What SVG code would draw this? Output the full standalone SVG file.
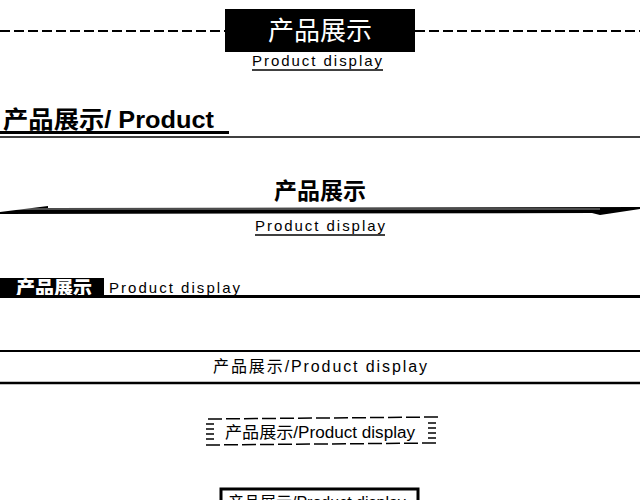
<svg xmlns="http://www.w3.org/2000/svg" width="640" height="500" viewBox="0 0 640 500">
<style>
.cjk{font-family:"Noto Sans CJK SC","Liberation Sans",sans-serif}
.sans{font-family:"Liberation Sans","Noto Sans CJK SC",sans-serif}
</style>
<rect width="640" height="500" fill="#fff"/>
<g id="title1">
<line x1="0" y1="31" x2="226" y2="31" stroke="#000" stroke-width="2" stroke-dasharray="10,4"/>
<line x1="415" y1="31" x2="640" y2="31" stroke="#000" stroke-width="2" stroke-dasharray="10,4"/>
<rect x="225" y="9" width="190" height="43" fill="#000"/>
<text x="320" y="40" class="cjk" font-size="26" fill="#fff" text-anchor="middle">产品展示</text>
<text x="252" y="66" class="sans" font-size="15" textLength="130" lengthAdjust="spacing">Product display</text>
<line x1="252" y1="70" x2="383" y2="70" stroke="#000" stroke-width="1.5"/>
</g>
<g id="title2">
<text x="3" y="128" class="sans" font-size="24" font-weight="bold" textLength="211" lengthAdjust="spacingAndGlyphs">产品展示/ Product</text>
<rect x="0" y="131" width="229" height="3" fill="#000"/>
<line x1="0" y1="137" x2="640" y2="137" stroke="#000" stroke-width="1.5"/>
</g>
<g id="title3">
<text x="320" y="199" class="cjk" font-size="23" font-weight="bold" text-anchor="middle">产品展示</text>
<polygon points="0,212 48,206 48,208 640,207 640,209 600,215 592,213 0,214" fill="#000"/>
<line x1="10" y1="209" x2="600" y2="209" stroke="#fff" stroke-width="0.6"/>
<text x="255" y="231" class="sans" font-size="15" textLength="130" lengthAdjust="spacing">Product display</text>
<line x1="255" y1="235" x2="385" y2="235" stroke="#000" stroke-width="1.5"/>
</g>
<g id="title4">
<rect x="0" y="278" width="104" height="18" fill="#000"/>
<text x="54" y="295" class="cjk" font-size="19" font-weight="900" fill="#fff" text-anchor="middle">产品展示</text>
<text x="109" y="293" class="sans" font-size="15" textLength="131" lengthAdjust="spacing">Product display</text>
<rect x="0" y="295" width="640" height="3" fill="#000"/>
</g>
<g id="title5">
<line x1="0" y1="351" x2="640" y2="351" stroke="#000" stroke-width="2"/>
<line x1="0" y1="383" x2="640" y2="383" stroke="#000" stroke-width="2.5"/>
<text x="213" y="372" class="sans" font-size="16" textLength="214" lengthAdjust="spacing">产品展示/Product display</text>
</g>
<g id="title6">
<g stroke="#000" stroke-width="1.5">
<line x1="208" y1="419" x2="438" y2="417" stroke-dasharray="14,4"/>
<line x1="206" y1="445" x2="436" y2="443" stroke-dasharray="14,4"/>
<line x1="206" y1="424" x2="214" y2="424"/><line x1="206" y1="429" x2="214" y2="429"/><line x1="206" y1="434" x2="214" y2="434"/><line x1="206" y1="439" x2="214" y2="439"/>
<line x1="428" y1="423" x2="436" y2="423"/><line x1="428" y1="428" x2="436" y2="428"/><line x1="428" y1="433" x2="436" y2="433"/><line x1="428" y1="438" x2="436" y2="438"/>
</g>
<text x="225" y="438" class="sans" font-size="16" textLength="190" lengthAdjust="spacingAndGlyphs">产品展示/Product display</text>
</g>
<g id="title7">
<rect x="221" y="489" width="197" height="20" fill="none" stroke="#000" stroke-width="3"/>
<text x="228" y="508" class="sans" font-size="16">产品展示/Product display</text>
</g>
</svg>
